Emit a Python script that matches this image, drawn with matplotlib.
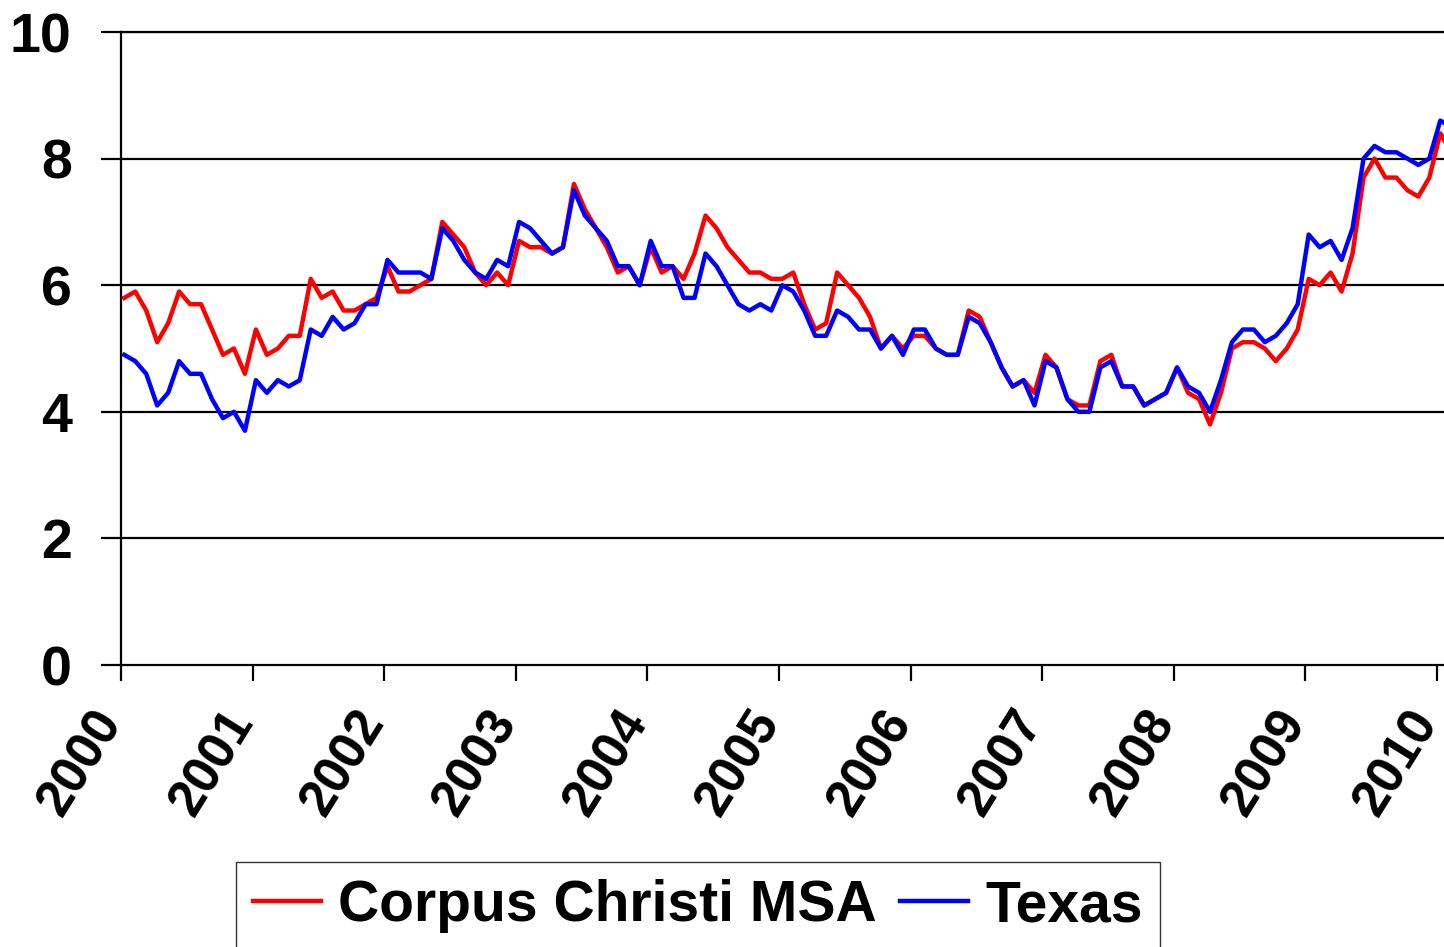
import matplotlib
matplotlib.use('Agg')
import matplotlib.pyplot as plt
import matplotlib.transforms as mtransforms
import numpy as np

plt.rcParams['font.family'] = ['Liberation Sans', 'DejaVu Sans']
plt.rcParams['font.weight'] = 'bold'

# Monthly unemployment rate (%), Jan 2000 - Feb 2010
corpus = [
    5.8, 5.9, 5.6, 5.1, 5.4, 5.9, 5.7, 5.7, 5.3, 4.9, 5.0, 4.6,   # 2000
    5.3, 4.9, 5.0, 5.2, 5.2, 6.1, 5.8, 5.9, 5.6, 5.6, 5.7, 5.8,   # 2001
    6.3, 5.9, 5.9, 6.0, 6.1, 7.0, 6.8, 6.6, 6.2, 6.0, 6.2, 6.0,   # 2002
    6.7, 6.6, 6.6, 6.5, 6.6, 7.6, 7.2, 6.9, 6.6, 6.2, 6.3, 6.0,   # 2003
    6.6, 6.2, 6.3, 6.1, 6.5, 7.1, 6.9, 6.6, 6.4, 6.2, 6.2, 6.1,   # 2004
    6.1, 6.2, 5.7, 5.3, 5.4, 6.2, 6.0, 5.8, 5.5, 5.0, 5.2, 5.0,   # 2005
    5.2, 5.2, 5.0, 4.9, 4.9, 5.6, 5.5, 5.1, 4.7, 4.4, 4.5, 4.3,   # 2006
    4.9, 4.7, 4.2, 4.1, 4.1, 4.8, 4.9, 4.4, 4.4, 4.1, 4.2, 4.3,   # 2007
    4.7, 4.3, 4.2, 3.8, 4.3, 5.0, 5.1, 5.1, 5.0, 4.8, 5.0, 5.3,   # 2008
    6.1, 6.0, 6.2, 5.9, 6.5, 7.7, 8.0, 7.7, 7.7, 7.5, 7.4, 7.7,   # 2009
    8.4, 8.1,                                                     # 2010
]
texas = [
    4.9, 4.8, 4.6, 4.1, 4.3, 4.8, 4.6, 4.6, 4.2, 3.9, 4.0, 3.7,
    4.5, 4.3, 4.5, 4.4, 4.5, 5.3, 5.2, 5.5, 5.3, 5.4, 5.7, 5.7,
    6.4, 6.2, 6.2, 6.2, 6.1, 6.9, 6.7, 6.4, 6.2, 6.1, 6.4, 6.3,
    7.0, 6.9, 6.7, 6.5, 6.6, 7.5, 7.1, 6.9, 6.7, 6.3, 6.3, 6.0,
    6.7, 6.3, 6.3, 5.8, 5.8, 6.5, 6.3, 6.0, 5.7, 5.6, 5.7, 5.6,
    6.0, 5.9, 5.6, 5.2, 5.2, 5.6, 5.5, 5.3, 5.3, 5.0, 5.2, 4.9,
    5.3, 5.3, 5.0, 4.9, 4.9, 5.5, 5.4, 5.1, 4.7, 4.4, 4.5, 4.1,
    4.8, 4.7, 4.2, 4.0, 4.0, 4.7, 4.8, 4.4, 4.4, 4.1, 4.2, 4.3,
    4.7, 4.4, 4.3, 4.0, 4.5, 5.1, 5.3, 5.3, 5.1, 5.2, 5.4, 5.7,
    6.8, 6.6, 6.7, 6.4, 6.9, 8.0, 8.2, 8.1, 8.1, 8.0, 7.9, 8.0,
    8.6, 8.5,
]
years = list(range(2000, 2011))
yticks = [0, 2, 4, 6, 8, 10]

months = np.arange(len(corpus))
x = 2000 + (months + 0.3) / 12

fig = plt.figure(figsize=(14.44, 9.47), dpi=100)
ax = fig.add_axes([121 / 1444, 1 - 665 / 947, 1 - 121 / 1444, (665 - 32) / 947])

ax.plot(x, corpus, color='#ff0000', lw=3.2, label='Corpus Christi MSA')
ax.plot(x, texas, color='#0000ff', lw=3.2, label='Texas')

ax.set_xlim(2000, 2000 + (1444 - 121) / 131.6)
ax.set_ylim(0, 10)
ax.set_yticks(yticks)
ax.set_xticks(years)
ax.set_xticklabels([str(y) for y in years], rotation=58, ha='right',
                   va='center', rotation_mode='anchor')
for y in yticks[1:]:
    ax.axhline(y, color='black', lw=1.6, zorder=0)

ax.spines['right'].set_visible(False)
for s in ['left', 'top', 'bottom']:
    ax.spines[s].set_linewidth(1.6)
ax.tick_params(axis='y', length=14.5, width=1.6, pad=21, labelsize=40)
ax.tick_params(axis='x', length=11.5, width=1.6, pad=24, labelsize=37)

# nudge rotated year labels a little to the left
shift = mtransforms.ScaledTranslation(-10 / 100, 0, fig.dpi_scale_trans)
for lbl in ax.get_xticklabels():
    lbl.set_transform(lbl.get_transform() + shift)

fig.legend(loc='upper left', bbox_to_anchor=(236 / 1444, 1 - 862 / 947),
           ncol=2, fontsize=41, frameon=True, fancybox=False, edgecolor='black',
           handlelength=1.2, handletextpad=0.3, columnspacing=0.4,
           borderpad=0.3, borderaxespad=0)

fig.savefig('out.png', dpi=100)
